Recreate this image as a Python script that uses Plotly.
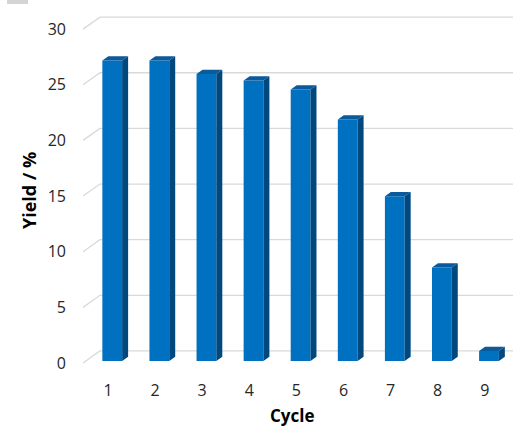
import plotly.graph_objects as go

# Yield per recycling cycle
cycles = [1, 2, 3, 4, 5, 6, 7, 8, 9]
yield_pct = [27.0, 27.0, 25.8, 25.2, 24.4, 21.7, 14.8, 8.4, 0.9]
y_ticks = [0, 5, 10, 15, 20, 25, 30]

# 3D look: bar geometry and depth offsets (axis units)
BAR_W = 0.42
BAR_OFF = -0.12
DEPTH_X = 0.127
DEPTH_Y = 0.38
X_RANGE = [0.469, 9.6]
Y_RANGE = [-0.81, 31.54]
WALL_X0_FRONT = X_RANGE[0]
WALL_X0_BACK = X_RANGE[0] + 0.36
GRID_FRONT_DROP = 0.18
GRID_BACK_RISE = 0.9

FRONT = "#0070C0"
SIDE = "#00487E"
TOP = "#0A5A9C"
GRID = "#D9D9D9"
TXT = "#262626"
FONT = "'Open Sans', Lato, sans-serif"

fig = go.Figure()

# front faces
fig.add_trace(go.Bar(x=cycles, y=yield_pct, width=BAR_W, offset=BAR_OFF,
                     marker=dict(color=FRONT, line=dict(width=0)),
                     showlegend=False))

# side and top faces
sx, sy, tx, ty = [], [], [], []
for c, h in zip(cycles, yield_pct):
    xl = c + BAR_OFF
    xr = xl + BAR_W
    sx += [xr, xr + DEPTH_X, xr + DEPTH_X, xr, xr, None]
    sy += [0, DEPTH_Y, h + DEPTH_Y, h, 0, None]
    tx += [xl, xl + DEPTH_X, xr + DEPTH_X, xr, xl, None]
    ty += [h, h + DEPTH_Y, h + DEPTH_Y, h, h, None]
fig.add_trace(go.Scatter(x=sx, y=sy, mode="lines", fill="toself",
                         fillcolor=SIDE, line=dict(width=0, color=SIDE),
                         hoverinfo="skip", showlegend=False))
fig.add_trace(go.Scatter(x=tx, y=ty, mode="lines", fill="toself",
                         fillcolor=TOP, line=dict(width=0, color=TOP),
                         hoverinfo="skip", showlegend=False))

# back-wall gridlines with the slanted floor edge on the left, behind the bars
grid_shapes = []
for v in y_ticks:
    yf = v - GRID_FRONT_DROP
    yb = v + GRID_BACK_RISE
    grid_shapes.append(dict(
        type="path", xref="x", yref="y", layer="below",
        path=f"M {WALL_X0_FRONT} {yf} L {WALL_X0_BACK} {yb} L {X_RANGE[1]} {yb}",
        line=dict(color=GRID, width=1.3)))

# small grey marker at the top-left corner of the page
grid_shapes.append(dict(
    type="rect", xref="paper", yref="paper",
    x0=(7 - 83) / 430, x1=(28 - 83) / 430,
    y0=(370 - 4) / 360, y1=(370 + 4) / 360,
    fillcolor="#D4D4D4", line=dict(width=0), layer="below"))

fig.update_layout(
    width=513, height=427,
    margin=dict(l=83, r=0, t=10, b=57),
    paper_bgcolor="white", plot_bgcolor="white",
    font=dict(family=FONT, size=16, color=TXT),
    xaxis=dict(range=X_RANGE, tickvals=cycles, ticktext=[str(c) for c in cycles],
               showgrid=False, zeroline=False, showline=False, ticks="",
               ticklabelstandoff=9, fixedrange=True),
    yaxis=dict(range=Y_RANGE,
               tickvals=[v - GRID_FRONT_DROP for v in y_ticks],
               ticktext=[str(v) for v in y_ticks],
               showgrid=False, zeroline=False, showline=False, ticks="",
               ticklabelstandoff=16, fixedrange=True),
    annotations=[
        dict(text="<b>Yield / %</b>", textangle=-90, xref="paper", yref="paper",
             x=(29 - 83) / 430, y=(370 - 190) / 360, showarrow=False,
             xanchor="center", yanchor="middle",
             font=dict(family=FONT, size=18, color="black")),
        dict(text="<b>Cycle</b>", xref="paper", yref="paper",
             x=(292 - 83) / 430, y=(370 - 415) / 360, showarrow=False,
             xanchor="center", yanchor="middle",
             font=dict(family=FONT, size=17, color="black")),
    ],
    shapes=grid_shapes,
)

fig.write_html("out.html")
